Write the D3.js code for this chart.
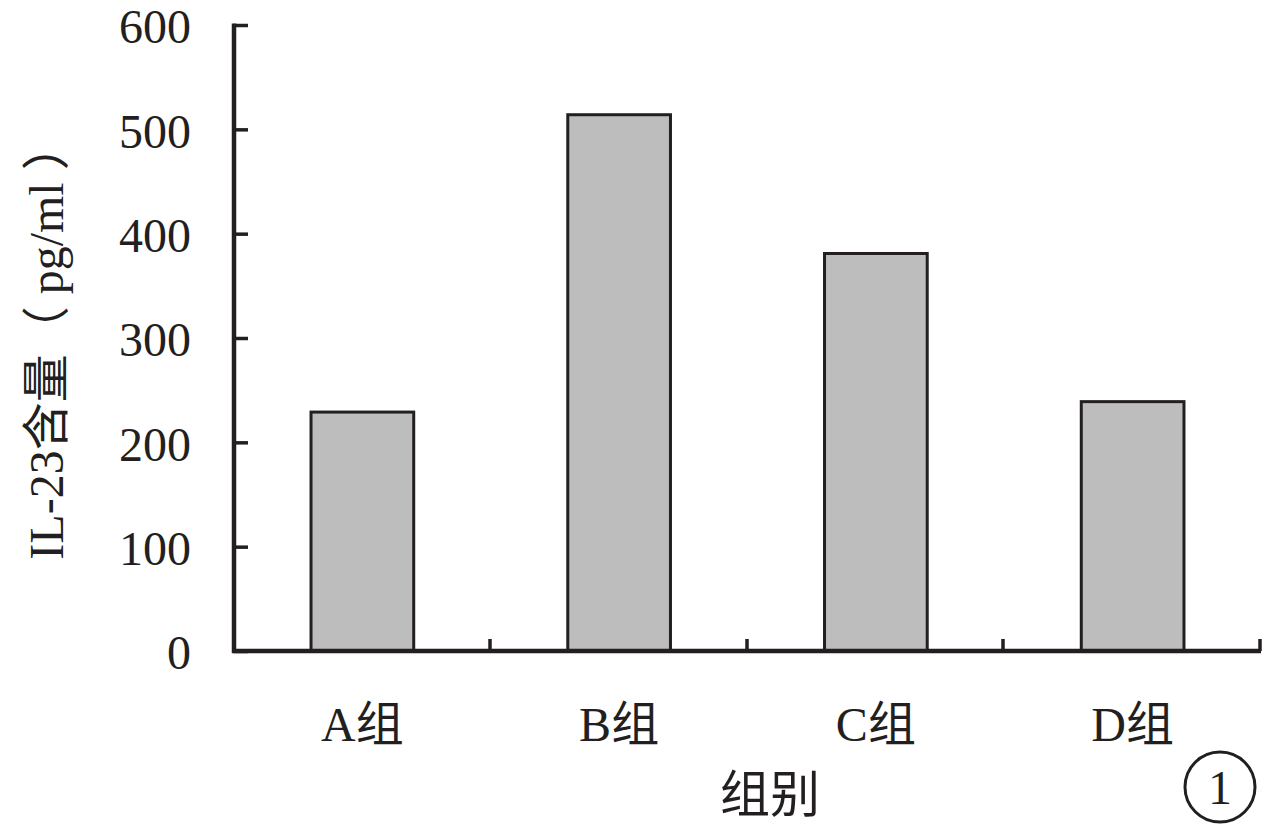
<!DOCTYPE html>
<html><head><meta charset="utf-8">
<script src="https://d3js.org/d3.v7.min.js"></script>
<style>body{margin:0;background:#fff}svg{display:block}text{font-family:"Liberation Serif","Times New Roman","Noto Sans CJK SC",serif;fill:#231f20}</style>
</head><body><svg id="c" width="1280" height="827"></svg>
<script>
const categories = ["A组","B组","C组","D组"];
const values = [229, 514, 381, 239];
const yTicks = [0,100,200,300,400,500,600];
const yLabel = "IL-23含量（ pg/ml ）";
const xLabel = "组别";
const panelMark = "1";

const svg = d3.select("#c");
const ink = "#231f20";
const x0 = 234, x1 = 1261, y0 = 651, yTop = 25;
const x = d3.scaleBand().domain(categories).range([x0, x1]).paddingInner(0.6).paddingOuter(0.3);
const xb = d3.scaleBand().domain(categories).range([x0, x1]);
const y = d3.scaleLinear().domain([0, 600]).range([y0, yTop]);

// bars
svg.append("g").selectAll("rect").data(values).join("rect")
  .attr("x", (d,i)=>x(categories[i]))
  .attr("width", x.bandwidth())
  .attr("y", d=>y(d))
  .attr("height", d=>y0-y(d))
  .attr("fill", "#bdbdbd").attr("stroke", ink).attr("stroke-width", 3);

// y axis
const ya = svg.append("g").attr("transform", `translate(${x0},0)`)
  .call(d3.axisRight(y).tickValues(yTicks).tickSize(14).tickFormat(""));
ya.select(".domain").remove();
ya.selectAll("line").attr("stroke", ink).attr("stroke-width", 3.5);
svg.append("line").attr("x1", x0).attr("x2", x0).attr("y1", yTop-1.5).attr("y2", y0+2)
  .attr("stroke", ink).attr("stroke-width", 4.5);
svg.append("g").selectAll("text").data(yTicks).join("text")
  .attr("x", 191).attr("y", d=>y(d)).attr("dy", "0.38em")
  .attr("text-anchor", "end").attr("font-size", 48).text(d=>d);

// x axis
svg.append("line").attr("x1", x0-2).attr("x2", x1).attr("y1", y0).attr("y2", y0)
  .attr("stroke", ink).attr("stroke-width", 4.5);
const bounds = categories.map(c=>xb(c)+xb.bandwidth()).map(Math.round);
svg.append("g").selectAll("line").data(bounds).join("line")
  .attr("x1", d=>d-1).attr("x2", d=>d-1).attr("y1", y0).attr("y2", y0-12)
  .attr("stroke", ink).attr("stroke-width", 3.5);
svg.append("g").selectAll("text").data(categories).join("text")
  .attr("x", d=>xb(d)+xb.bandwidth()/2).attr("y", 741)
  .attr("text-anchor", "middle").attr("font-size", 48).text(d=>d);

svg.append("text").attr("x", 770).attr("y", 812).attr("text-anchor", "middle")
  .attr("font-size", 50).text(xLabel);

svg.append("text").attr("transform", "translate(63,341) rotate(-90)")
  .attr("text-anchor", "middle").attr("font-size", 48).attr("xml:space", "preserve")
  .style("white-space", "pre").text(yLabel);

// panel mark
svg.append("circle").attr("cx", 1220).attr("cy", 787).attr("r", 35)
  .attr("fill", "none").attr("stroke", ink).attr("stroke-width", 3);
svg.append("text").attr("x", 1220).attr("y", 787).attr("dy", "0.35em")
  .attr("text-anchor", "middle").attr("font-size", 48).text(panelMark);
</script></body></html>
